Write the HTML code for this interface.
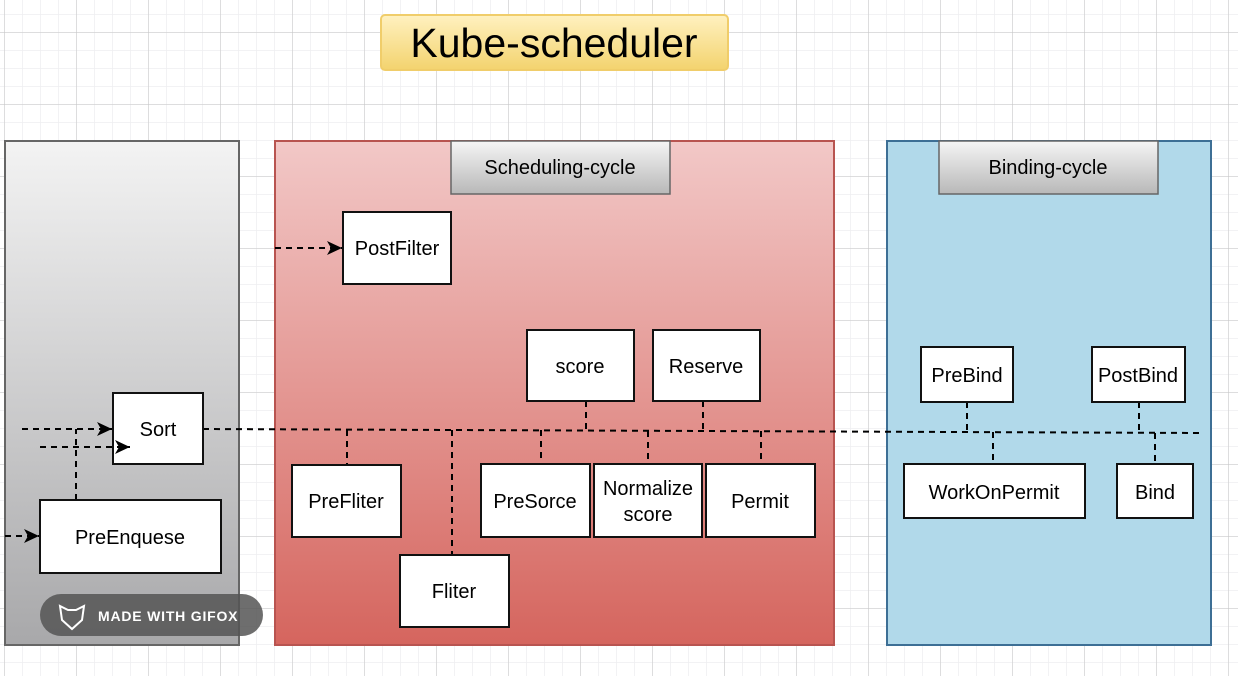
<!DOCTYPE html>
<html><head><meta charset="utf-8"><style>
body{margin:0;width:1238px;height:676px;overflow:hidden;background:#fff;font-family:"Liberation Sans",Arial,sans-serif}
</style></head><body>
<svg width="1238" height="676" xmlns="http://www.w3.org/2000/svg" font-family="Liberation Sans, Arial, sans-serif">
<defs>
<pattern id="minor" x="4" y="32" width="18" height="18" patternUnits="userSpaceOnUse"><path d="M0 0H18M0 0V18" stroke="#eeeef0" stroke-width="1.5" fill="none"/></pattern>
<pattern id="major" x="4" y="32" width="72" height="72" patternUnits="userSpaceOnUse"><path d="M0 0H72M0 0V72" stroke="#c4c4c4" stroke-width="1" fill="none"/></pattern>
<linearGradient id="gG" x1="0" y1="0" x2="0" y2="1"><stop offset="0" stop-color="#f3f3f3"/><stop offset="1" stop-color="#a8a8aa"/></linearGradient>
<linearGradient id="gR" x1="0" y1="0" x2="0" y2="1"><stop offset="0" stop-color="#f2c8c7"/><stop offset="1" stop-color="#d5655e"/></linearGradient>
<linearGradient id="gH" x1="0" y1="0" x2="0" y2="1"><stop offset="0" stop-color="#f5f5f5"/><stop offset="1" stop-color="#b8b8b8"/></linearGradient>
<linearGradient id="gY" x1="0" y1="0" x2="0" y2="1"><stop offset="0" stop-color="#fff1c0"/><stop offset="1" stop-color="#f3d36e"/></linearGradient>
<marker id="ar" markerWidth="16" markerHeight="14" refX="15" refY="7" orient="auto" markerUnits="userSpaceOnUse"><path d="M0 0L15 7L0 14L4 7Z" fill="#000"/></marker>
</defs>
<rect width="1238" height="676" fill="url(#minor)"/>
<rect width="1238" height="676" fill="url(#major)"/>
<!-- title -->
<rect x="381" y="15" width="347" height="55" rx="4" fill="url(#gY)" stroke="#f0cd6a" stroke-width="2"/>
<text x="554" y="57" font-size="41" text-anchor="middle" fill="#000">Kube-scheduler</text>
<!-- panels -->
<rect x="5" y="141" width="234" height="504" fill="url(#gG)" stroke="#666" stroke-width="2"/>
<rect x="275" y="141" width="559" height="504" fill="url(#gR)" stroke="#b85450" stroke-width="2"/>
<rect x="887" y="141" width="324" height="504" fill="#b1d9ea" stroke="#3d6f95" stroke-width="2"/>
<rect x="451" y="141" width="219" height="53" fill="url(#gH)" stroke="#666" stroke-width="1.5"/>
<text x="560" y="174" font-size="20" text-anchor="middle">Scheduling-cycle</text>
<rect x="939" y="141" width="219" height="53" fill="url(#gH)" stroke="#666" stroke-width="1.5"/>
<text x="1048" y="174" font-size="20" text-anchor="middle">Binding-cycle</text>
<!-- connectors -->
<g stroke="#000" stroke-width="2" stroke-dasharray="6 5" fill="none">
<path d="M203 429L1203 433"/>
<path d="M22 429H112" marker-end="url(#ar)"/>
<path d="M76 500V429"/>
<path d="M5 536H39" marker-end="url(#ar)"/>
<path d="M275 248H342" marker-end="url(#ar)"/>
<path d="M347 430V465M452 430V555M586 401V430M541 430V464M648 431V464M703 401V431M761 431V464M967 402V432M993 432V464M1139 402V433M1155 433V464"/>
</g>
<!-- boxes -->
<g fill="#fff" stroke="#111" stroke-width="2">
<rect x="343" y="212" width="108" height="72"/>
<rect x="527" y="330" width="107" height="71"/>
<rect x="653" y="330" width="107" height="71"/>
<rect x="113" y="393" width="90" height="71"/>
<rect x="292" y="465" width="109" height="72"/>
<rect x="400" y="555" width="109" height="72"/>
<rect x="481" y="464" width="109" height="73"/>
<rect x="594" y="464" width="108" height="73"/>
<rect x="706" y="464" width="109" height="73"/>
<rect x="40" y="500" width="181" height="73"/>
<rect x="921" y="347" width="92" height="55"/>
<rect x="1092" y="347" width="93" height="55"/>
<rect x="904" y="464" width="181" height="54"/>
<rect x="1117" y="464" width="76" height="54"/>
</g>
<path d="M40 447H130" stroke="#000" stroke-width="2" stroke-dasharray="6 5" fill="none" marker-end="url(#ar)"/>
<g font-size="20" text-anchor="middle" fill="#000">
<text x="397" y="255">PostFilter</text>
<text x="580" y="373">score</text>
<text x="706" y="373">Reserve</text>
<text x="158" y="436">Sort</text>
<text x="346" y="508">PreFliter</text>
<text x="454" y="598">Fliter</text>
<text x="535" y="508">PreSorce</text>
<text x="648" y="495">Normalize</text>
<text x="648" y="521">score</text>
<text x="760" y="508">Permit</text>
<text x="130" y="544">PreEnquese</text>
<text x="967" y="382">PreBind</text>
<text x="1138" y="382">PostBind</text>
<text x="994" y="499">WorkOnPermit</text>
<text x="1155" y="499">Bind</text>
</g>
<!-- gifox badge -->
<rect x="40" y="594" width="223" height="42" rx="21" fill="#555" fill-opacity="0.85"/>
<path d="M60 606L68 610H76L84 606L82 620L72 629L62 620Z" fill="none" stroke="#fff" stroke-width="2"/>
<text x="98" y="621" font-size="14" font-weight="bold" fill="#fff" letter-spacing="0.8">MADE WITH GIFOX</text>
</svg>
</body></html>
